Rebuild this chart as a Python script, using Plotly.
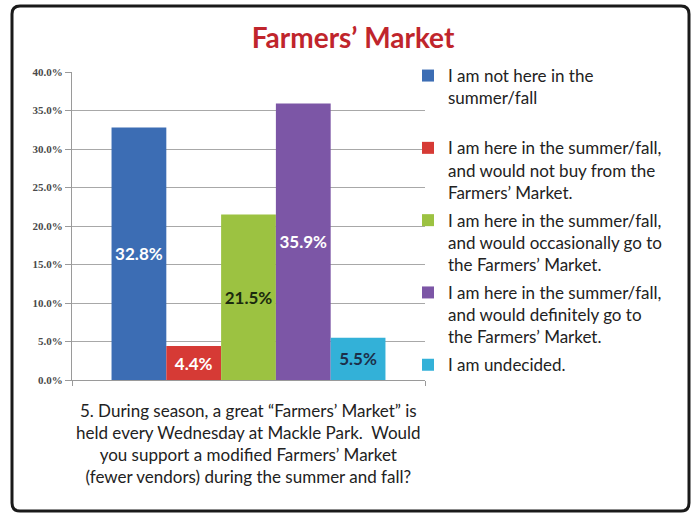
import plotly.graph_objects as go

categories = [
    "I am not here in the<br>summer/fall<br> ",
    "I am here in the summer/fall,<br>and would not buy from the<br>Farmers’ Market.",
    "I am here in the summer/fall,<br>and would occasionally go to<br>the Farmers’ Market.",
    "I am here in the summer/fall,<br>and would definitely go to<br>the Farmers’ Market.",
    "I am undecided.",
]
values = [32.8, 4.4, 21.5, 35.9, 5.5]
labels = ["32.8%", "4.4%", "21.5%", "35.9%", "5.5%"]
colors = ["#3C6DB4", "#D63A35", "#9CC241", "#7C56A6", "#33B1D8"]
label_colors = ["#FFFFFF", "#FFFFFF", "#1B2A0E", "#FFFFFF", "#1C2F4A"]
y_ticks = [0, 5, 10, 15, 20, 25, 30, 35, 40]

W, H = 691, 514
ML, MR, MT, MB = 72, 266, 72, 134
PW, PH = W - ML - MR, H - MT - MB

def px_x(p):
    return (p - ML) / PW

def px_y(p):
    return (H - MB - p) / PH

fig = go.Figure()
for cat, v, lab, c, lc in zip(categories, values, labels, colors, label_colors):
    fig.add_trace(go.Bar(
        x=[0], y=[v], name=cat, text=[lab],
        textposition="inside", insidetextanchor="middle",
        textfont=dict(family="Lato", size=17, color=lc),
        texttemplate="<b>%{text}</b>",
        marker=dict(color=c, line=dict(width=0)),
        legendgroup=cat,
    ))

# rounded border path in paper coords
x0, x1 = px_x(12), px_x(689)
y0, y1 = px_y(511), px_y(6)
rx, ry = 8 / PW, 8 / PH
path = (f"M {x0+rx},{y1} L {x1-rx},{y1} Q {x1},{y1} {x1},{y1-ry} "
        f"L {x1},{y0+ry} Q {x1},{y0} {x1-rx},{y0} L {x0+rx},{y0} "
        f"Q {x0},{y0} {x0},{y0+ry} L {x0},{y1-ry} Q {x0},{y1} {x0+rx},{y1} Z")

fig.update_layout(
    width=W, height=H,
    margin=dict(l=ML, r=MR, t=MT, b=MB),
    paper_bgcolor="white", plot_bgcolor="white",
    barmode="group", bargap=0.224, bargroupgap=0,
    showlegend=True,
    legend=dict(
        x=px_x(408), y=px_y(58), xanchor="left", yanchor="top",
        font=dict(family="Lato", size=17, color="#222222"),
        valign="top", tracegroupgap=3, itemwidth=30,
        bgcolor="rgba(0,0,0,0)", maxheight=460,
    ),
    title=dict(
        text="<b>Farmers’ Market</b>",
        x=353 / W, xanchor="center", y=1 - 38 / H, yanchor="middle",
        font=dict(family="Lato", size=28, color="#C0252C"),
    ),
    shapes=[dict(type="path", xref="paper", yref="paper", path=path,
                 line=dict(color="#1A1A1A", width=3), layer="above")],
    annotations=[dict(
        xref="paper", yref="paper", x=0.5, y=px_y(398),
        xanchor="center", yanchor="top", align="center", showarrow=False,
        text=("5. During season, a great “Farmers’ Market” is<br>"
              "held every Wednesday at Mackle Park.  Would<br>"
              "you support a modified Farmers’ Market<br>"
              "(fewer vendors) during the summer and fall?"),
        font=dict(family="Lato", size=17, color="#222222"),
    )],
)
fig.update_yaxes(
    range=[0, 40], tickvals=y_ticks,
    ticktext=[f"<b>{t:.1f}%</b>" for t in y_ticks],
    showgrid=True, gridcolor="#A8A8A8", gridwidth=1,
    showline=True, linecolor="#9A9A9A", linewidth=1,
    ticks="outside", ticklen=6, tickcolor="#9A9A9A",
    tickfont=dict(family="Liberation Serif", size=11, color="#4A4A4A"),
    zeroline=False,
)
fig.update_xaxes(
    type="linear", range=[-0.5, 0.5], tickvals=[-0.5, 0.5],
    ticks="outside", ticklen=5, tickcolor="#9A9A9A",
    showticklabels=False, showline=True,
    linecolor="#9A9A9A", linewidth=1, showgrid=False, zeroline=False,
)
fig.write_html("out.html")
